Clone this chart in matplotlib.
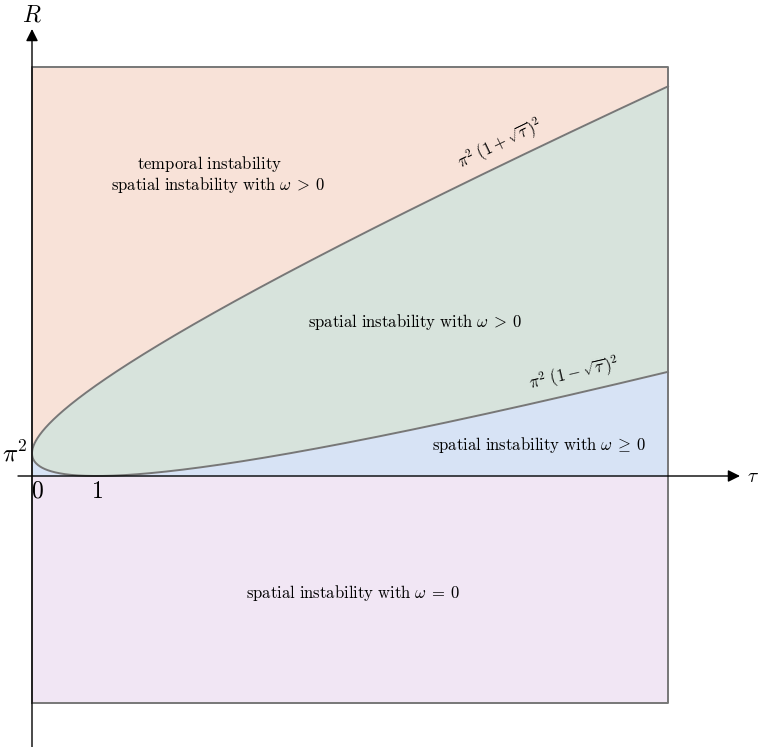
import numpy as np
import matplotlib
matplotlib.use("Agg")
import matplotlib.pyplot as plt

plt.rcParams["mathtext.fontset"] = "cm"

# Domain of the diagram (tau in [0, pi^2], R in [-10 pi^2, 18 pi^2])
PI2 = np.pi ** 2
tau_max = PI2
R_min, R_max = -10 * PI2, 18 * PI2

# Region colours
c_temporal = "#f8e2d8"
c_between = "#d7e3dc"
c_below = "#d7e3f5"
c_negative = "#f1e6f4"
edge = "#777777"

region_labels = {
    "temporal1": r"$\mathrm{temporal\ instability}$",
    "temporal2": r"$\mathrm{spatial\ instability\ with\ }\omega\:>\:0$",
    "between": r"$\mathrm{spatial\ instability\ with\ }\omega\:>\:0$",
    "below": r"$\mathrm{spatial\ instability\ with\ }\omega\:\geq\:0$",
    "negative": r"$\mathrm{spatial\ instability\ with\ }\omega\:=\:0$",
}
curve_labels = [r"$\pi^2\;(1+\sqrt{\tau})^2$", r"$\pi^2\;(1-\sqrt{\tau})^2$"]

# Figure geometry: axes fill the canvas, data -> pixel mapping is linear
W, H = 760, 747
x0_px, y0_px = 32, 476
px_tau = 636 / tau_max
px_R = 636 / (R_max - R_min)


def tx(px):
    return (px - x0_px) / px_tau


def ry(py):
    return (y0_px - py) / px_R


fig = plt.figure(figsize=(W / 100, H / 100), dpi=100)
ax = fig.add_axes([0, 0, 1, 1])
ax.set_xlim(tx(0), tx(W))
ax.set_ylim(ry(H), ry(0))
ax.axis("off")

# Boundary curves R = pi^2 (1 +/- sqrt(tau))^2
tau = np.linspace(0, tau_max, 600)
upper = PI2 * (1 + np.sqrt(tau)) ** 2
lower = PI2 * (1 - np.sqrt(tau)) ** 2

ax.fill_between([0, tau_max], R_min, 0, color=c_negative, lw=0)
ax.fill_between(tau, upper, R_max, color=c_temporal, lw=0)
ax.fill_between(tau, lower, upper, color=c_between, lw=0)
ax.fill_between(tau, 0, lower, color=c_below, lw=0)

# Parametric form of both branches as one closed curve
s = np.linspace(-np.pi, np.pi, 800)
ax.plot(s ** 2, PI2 * (1 + s) ** 2, color=edge, lw=1.4, zorder=3)

# Outer frame
ax.plot([0, tau_max, tau_max, 0, 0], [R_min, R_min, R_max, R_max, R_min],
        color=edge, lw=1.4, zorder=3)

# Coordinate axes with arrow heads
ax.annotate("", xy=(tx(740), 0), xytext=(tx(18), 0),
            arrowprops=dict(arrowstyle="-|>", color="black", lw=1.0,
                            mutation_scale=18, shrinkA=0, shrinkB=0), zorder=5)
ax.annotate("", xy=(0, ry(29)), xytext=(0, ry(747)),
            arrowprops=dict(arrowstyle="-|>", color="black", lw=1.0,
                            mutation_scale=18, shrinkA=0, shrinkB=0), zorder=5)

ax.text(tx(747), 0, r"$\tau$", fontsize=14, ha="left", va="center")
ax.text(0, ry(15), r"$R$", fontsize=17, ha="center", va="center")
ax.text(tx(28), PI2, r"$\pi^2$", fontsize=18, ha="right", va="center")
ax.text(tx(37), ry(479), r"$0$", fontsize=17, ha="center", va="top")
ax.text(tx(97), ry(479), r"$1$", fontsize=17, ha="center", va="top")

fs = 12
ax.text(tx(209), ry(164), region_labels["temporal1"], fontsize=fs, ha="center", va="center")
ax.text(tx(218), ry(185), region_labels["temporal2"], fontsize=fs, ha="center", va="center")
ax.text(tx(415), ry(322), region_labels["between"], fontsize=fs, ha="center", va="center")
ax.text(tx(539), ry(445), region_labels["below"], fontsize=fs, ha="center", va="center")
ax.text(tx(353), ry(593), region_labels["negative"], fontsize=fs, ha="center", va="center")

# Curve labels sit on top of their curve, rotated with the local slope
for t_lab, sign, lab in [(7.35, 1, curve_labels[0]), (8.45, -1, curve_labels[1])]:
    r_lab = PI2 * (1 + sign * np.sqrt(t_lab)) ** 2
    slope = PI2 * (1 + sign * np.sqrt(t_lab)) / np.sqrt(t_lab) * sign
    ang = np.degrees(np.arctan(slope * px_R / px_tau))
    ax.text(t_lab, r_lab + 3.5, lab, fontsize=12, rotation=ang,
            rotation_mode="anchor", ha="center", va="bottom")

fig.savefig("out.png", dpi=100)
